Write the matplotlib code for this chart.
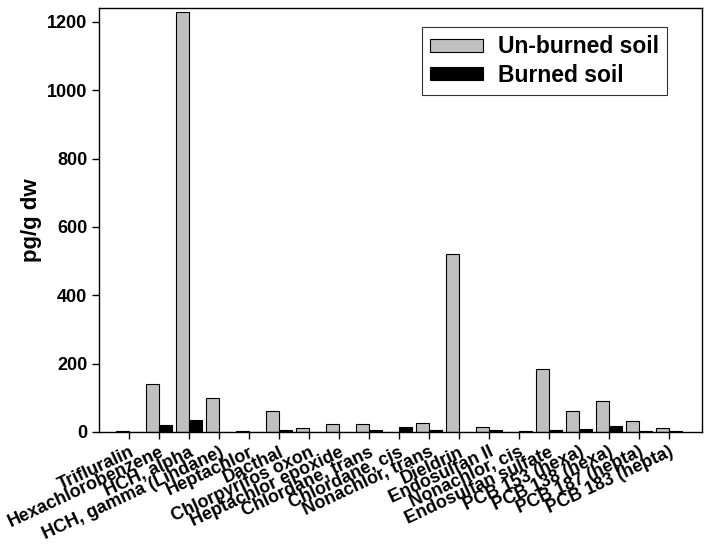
import matplotlib
matplotlib.use("Agg")
import matplotlib.pyplot as plt
import numpy as np

plt.rcParams['font.family'] = ['Liberation Sans', 'DejaVu Sans']
plt.rcParams['font.weight'] = 'bold'

compounds = [
    "Trifluralin", "Hexachlorobenzene", "HCH, alpha", "HCH, gamma (Lindane)",
    "Heptachlor", "Dacthal", "Chlorpyrifos oxon", "Heptachlor epoxide",
    "Chlordane, trans", "Chlordane, cis", "Nonachlor, trans", "Dieldrin",
    "Endosulfan II", "Nonachlor, cis", "Endosulfan sulfate", "PCB 153 (hexa)",
    "PCB 138 (hexa)", "PCB 187 (hepta)", "PCB 183 (hepta)",
]
unburned = [2, 140, 1230, 98, 2, 61, 11, 22, 24, 0, 27, 520, 13, 0, 183, 62, 89, 31, 11]
burned = [1, 21, 35, 0, 0, 5, 0, 0, 5, 15, 5, 0, 5, 2, 5, 9, 17, 4, 2]

fig = plt.figure(figsize=(7.14, 5.46), dpi=100)
ax = fig.add_axes([0.139, 0.209, 0.844, 0.776])

x = np.arange(len(compounds))
w = 0.43
ax.bar(x - w / 2, unburned, w, color="#c0c0c0", edgecolor="black", linewidth=0.8,
       label="Un-burned soil")
ax.bar(x + w / 2, burned, w, color="black", edgecolor="black", linewidth=0.8,
       label="Burned soil")

ax.set_xlim(-1.0, 19.1)
ax.set_ylim(0, 1240)
ax.set_yticks([0, 200, 400, 600, 800, 1000, 1200])
ax.set_xticks(x)
ax.set_xticklabels(compounds, rotation=25, ha="right", rotation_mode="anchor",
                   fontsize=13, fontweight="bold")
ax.tick_params(axis="y", labelsize=13, length=5, width=1.0, direction="out")
ax.tick_params(axis="x", length=5, width=1.0, direction="out")
for lab in ax.get_yticklabels():
    lab.set_fontweight("bold")
for sp in ax.spines.values():
    sp.set_linewidth(1.0)
ax.set_ylabel("pg/g dw", fontsize=16, fontweight="bold")

leg = ax.legend(loc="upper right", bbox_to_anchor=(0.942, 0.955), fontsize=16.5,
                frameon=True, fancybox=False, edgecolor="black",
                handlelength=2.3, handleheight=0.5, borderpad=0.35,
                labelspacing=0.25, handletextpad=0.65, borderaxespad=0)
leg.get_frame().set_linewidth(0.8)
for t in leg.get_texts():
    t.set_fontweight("bold")

plt.savefig("out.png", dpi=100)
